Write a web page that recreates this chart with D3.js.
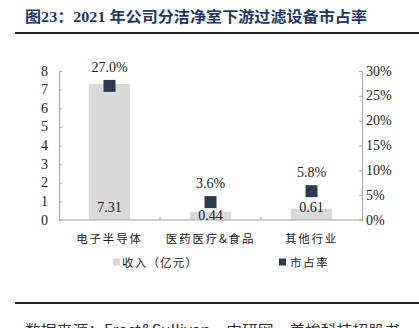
<!DOCTYPE html>
<html><head><meta charset="utf-8">
<script src="https://cdn.jsdelivr.net/npm/d3@7"></script>
<style>
html,body{margin:0;padding:0;background:#fff;overflow:hidden;}
svg{display:block;}
</style></head>
<body>
<svg id="c" width="419" height="328"></svg>
<script>
const categories = ["电子半导体", "医药医疗&食品", "其他行业"];
const revenue = [7.31, 0.44, 0.61];
const share = [27.0, 3.6, 5.8];
const revenueLabels = ["7.31", "0.44", "0.61"];
const shareLabels = ["27.0%", "3.6%", "5.8%"];
const leftTicks = [0,1,2,3,4,5,6,7,8];
const rightTicks = [0,5,10,15,20,25,30];
const seriesNames = ["收入（亿元）", "市占率"];
const titleText = "图23：2021 年公司分洁净室下游过滤设备市占率";
const sourceText = "数据来源：Frost&Sullivan，中研网，美埃科技招股书";

const svg = d3.select("#c");
const serif = "'Liberation Serif','Times New Roman',serif";
const cjk = "'Noto Sans CJK SC','Noto Sans',sans-serif";
const axisColor = "#a6a6a6";
const barColor = "#d9d9d9";
const markColor = "#2e3a52";
const titleColor = "#1f3864";

// Title
svg.append("text").attr("x", 25).attr("y", 22)
  .attr("font-family", "'Liberation Serif'," + cjk).attr("font-weight", "bold")
  .attr("font-size", 15).attr("fill", titleColor)
  .attr("textLength", 342).attr("lengthAdjust", "spacingAndGlyphs")
  .text(titleText);
svg.append("line").attr("x1", 15).attr("x2", 419).attr("y1", 33).attr("y2", 33)
  .attr("stroke", "#222").attr("stroke-width", 2);

// Footer
svg.append("line").attr("x1", 15).attr("x2", 419).attr("y1", 303).attr("y2", 303)
  .attr("stroke", "#222").attr("stroke-width", 2);
svg.append("text").attr("x", 25).attr("y", 335)
  .attr("font-family", cjk).attr("font-size", 14).attr("fill", "#333")
  .attr("textLength", 375).attr("lengthAdjust", "spacingAndGlyphs")
  .text(sourceText);

const L = 59, R = 362, T = 71, B = 220;
const x = d3.scaleBand().domain(categories).range([L, R]);
const yL = d3.scaleLinear().domain([0, 8]).range([B, T]);
const yR = d3.scaleLinear().domain([0, 30]).range([B, T]);

// Bars
const bw = x.bandwidth() * 0.41;
svg.append("g").selectAll("rect").data(categories).join("rect")
  .attr("x", d => x(d) + x.bandwidth()/2 - bw/2)
  .attr("y", (d,i) => yL(revenue[i]))
  .attr("width", bw)
  .attr("height", (d,i) => B - yL(revenue[i]))
  .attr("fill", barColor);

// Axes
const gl = svg.append("g").attr("transform", `translate(${L},0)`)
  .call(d3.axisRight(yL).tickValues(leftTicks).tickSize(3).tickFormat(d3.format("d")));
gl.selectAll("text").remove();
svg.append("g").selectAll("text").data(leftTicks).join("text")
  .attr("x", 48).attr("y", d => yL(d) + 4.5).attr("text-anchor", "end")
  .attr("font-family", serif).attr("font-size", 14).attr("fill", "#222")
  .text(d => d);

const gr = svg.append("g").attr("transform", `translate(${R},0)`)
  .call(d3.axisLeft(yR).tickValues(rightTicks).tickSize(3));
gr.selectAll("text").remove();
svg.append("g").selectAll("text").data(rightTicks).join("text")
  .attr("x", 366).attr("y", d => yR(d) + 4.5).attr("text-anchor", "start")
  .attr("font-family", serif).attr("font-size", 14).attr("fill", "#222")
  .text(d => d + "%");

[gl, gr].forEach(g => {
  g.select(".domain").attr("stroke", axisColor);
  g.selectAll(".tick line").attr("stroke", axisColor);
});

// X axis
const gx = svg.append("g").attr("transform", `translate(0,${B})`);
gx.append("line").attr("x1", L).attr("x2", R).attr("y1", 0).attr("y2", 0).attr("stroke", axisColor);
gx.selectAll("line.t").data(categories.slice(1)).join("line").attr("class", "t")
  .attr("x1", d => x(d)).attr("x2", d => x(d)).attr("y1", 0).attr("y2", -3)
  .attr("stroke", axisColor);
gx.selectAll("text").data(categories).join("text")
  .attr("x", d => x(d) + x.bandwidth()/2).attr("y", 23).attr("text-anchor", "middle")
  .attr("font-family", cjk).attr("font-size", 11.5).attr("letter-spacing", 1.8)
  .attr("fill", "#222").text(d => d);

// Bar labels
svg.append("g").selectAll("text").data(revenueLabels).join("text")
  .attr("x", (d,i) => x(categories[i]) + x.bandwidth()/2)
  .attr("y", (d,i) => revenue[i] < 0.5 ? B - 0.5 : B - 8.5)
  .attr("text-anchor", "middle").attr("font-family", serif).attr("font-size", 14)
  .attr("fill", "#222").text(d => d);

// Markers
const ms = 12;
svg.append("g").selectAll("rect").data(share).join("rect")
  .attr("x", (d,i) => x(categories[i]) + x.bandwidth()/2 - ms/2)
  .attr("y", d => yR(d) - ms/2)
  .attr("width", ms).attr("height", ms).attr("fill", markColor);
svg.append("g").selectAll("text").data(shareLabels).join("text")
  .attr("x", (d,i) => x(categories[i]) + x.bandwidth()/2)
  .attr("y", (d,i) => yR(share[i]) - 14)
  .attr("text-anchor", "middle").attr("font-family", serif).attr("font-size", 14)
  .attr("fill", "#222").text(d => d);

// Legend
const lg = svg.append("g");
lg.append("rect").attr("x", 113).attr("y", 258.5).attr("width", 7).attr("height", 7).attr("fill", barColor);
lg.append("text").attr("x", 122).attr("y", 266.5).attr("font-family", cjk).attr("font-size", 11.5)
  .attr("letter-spacing", 1.2).attr("fill", "#222").text(seriesNames[0]);
lg.append("rect").attr("x", 279).attr("y", 258.5).attr("width", 7).attr("height", 7).attr("fill", markColor);
lg.append("text").attr("x", 290).attr("y", 266.5).attr("font-family", cjk).attr("font-size", 11.5)
  .attr("letter-spacing", 1.6).attr("fill", "#222").text(seriesNames[1]);
</script>
</body></html>
